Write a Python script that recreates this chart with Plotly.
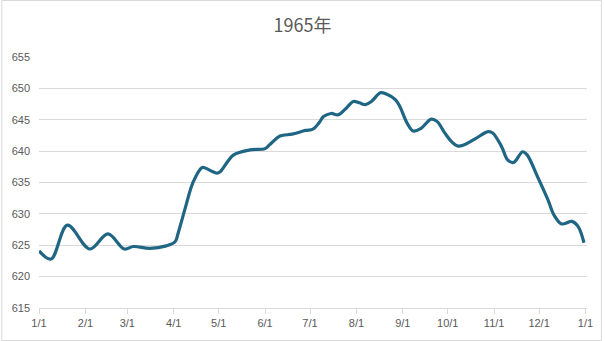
import plotly.graph_objects as go

dates = ["1965-01-01","1965-01-09","1965-01-20","1965-02-04","1965-02-16","1965-02-27",
         "1965-03-05","1965-03-16","1965-03-27","1965-04-02","1965-04-04","1965-04-09",
         "1965-04-14","1965-04-20","1965-04-22","1965-04-30","1965-05-02","1965-05-11",
         "1965-05-22","1965-06-01","1965-06-04","1965-06-11","1965-06-19","1965-06-28",
         "1965-07-03","1965-07-07","1965-07-10","1965-07-15","1965-07-20","1965-07-25",
         "1965-07-30","1965-08-03","1965-08-07","1965-08-11","1965-08-17","1965-08-21",
         "1965-08-27","1965-08-30","1965-09-04","1965-09-08","1965-09-13","1965-09-20",
         "1965-09-24","1965-09-29","1965-10-04","1965-10-08","1965-10-12","1965-10-19",
         "1965-10-28","1965-10-31","1965-11-06","1965-11-10","1965-11-14","1965-11-20",
         "1965-11-23","1965-11-30","1965-12-07","1965-12-11","1965-12-16","1965-12-23",
         "1965-12-27","1965-12-31"]
values = [624.1,622.8,628.2,624.4,626.8,624.4,
          624.8,624.5,624.9,625.6,627.0,631.2,
          635.1,637.4,637.3,636.5,636.7,639.4,
          640.2,640.4,641.0,642.4,642.7,643.3,
          643.5,644.5,645.5,646.0,645.8,646.8,
          647.9,647.7,647.4,647.9,649.3,649.1,
          648.2,647.1,644.4,643.2,643.6,645.1,
          644.7,642.9,641.4,640.8,641.0,641.9,
          643.1,642.9,640.7,638.6,638.2,639.9,
          639.4,635.9,632.2,629.8,628.4,628.8,
          628.0,625.4]

tick_vals = ["1965-01-01","1965-02-01","1965-03-01","1965-04-01","1965-05-01","1965-06-01",
             "1965-07-01","1965-08-01","1965-09-01","1965-10-01","1965-11-01","1965-12-01",
             "1966-01-01"]
tick_text = ["1/1","2/1","3/1","4/1","5/1","6/1","7/1","8/1","9/1","10/1","11/1","12/1","1/1"]
y_ticks = [615,620,625,630,635,640,645,650,655]
title = "1965年"

fig = go.Figure()
fig.add_trace(go.Scatter(x=dates, y=values, mode="lines",
                         line=dict(color="#1f6584", width=3.2, shape="spline", smoothing=1),
                         hoverinfo="skip"))

W, H = 605, 341
ml, mr, mt, mb = 38, 15, 57, 33
fig.update_layout(
    width=W, height=H,
    margin=dict(l=ml, r=mr, t=mt, b=mb),
    paper_bgcolor="white", plot_bgcolor="white",
    showlegend=False,
    title=dict(text=title, x=0.5, xanchor="center", y=1 - 26/H, yanchor="middle",
               font=dict(family="Noto Sans CJK SC, Liberation Sans", size=18, color="#595959")),
    font=dict(family="Liberation Sans, Arial", size=11, color="#595959"),
    xaxis=dict(type="date", range=["1965-01-01", "1966-01-02"],
               tickmode="array", tickvals=tick_vals, ticktext=tick_text,
               showgrid=False, zeroline=False,
               showline=True, linecolor="#d9d9d9", linewidth=1,
               ticks="outside", ticklen=5, tickcolor="#d9d9d9",
               tickfont=dict(size=11, color="#595959")),
    yaxis=dict(range=[615, 655], tickmode="array", tickvals=y_ticks,
               showgrid=True, gridcolor="#d9d9d9", gridwidth=1,
               zeroline=False, showline=False, ticks="",
               ticklabelstandoff=8,
               tickfont=dict(size=11, color="#595959")),
)

pw = W - ml - mr
ph = H - mt - mb
fig.add_shape(type="rect", xref="paper", yref="paper",
              x0=(0.5 - ml) / pw, x1=(W - 0.5 - ml) / pw,
              y0=(-mb + 0.5) / ph, y1=(H - mb - 0.5) / ph,
              line=dict(color="#d9d9d9", width=1), fillcolor="rgba(0,0,0,0)", layer="below")

fig.write_html("out.html")
